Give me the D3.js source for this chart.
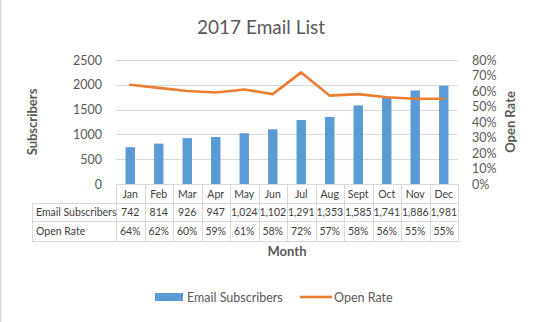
<!DOCTYPE html>
<html>
<head>
<meta charset="utf-8">
<script src="https://cdn.jsdelivr.net/npm/d3@7/dist/d3.min.js"></script>
<style>
  html, body { margin: 0; padding: 0; background: #fff; }
  svg { display: block; font-family: Lato, "Open Sans", sans-serif; }
</style>
</head>
<body>
<svg id="chart" width="540" height="322"></svg>
<script>
// Monthly email list figures for 2017
const months = ["Jan", "Feb", "Mar", "Apr", "May", "Jun", "Jul", "Aug", "Sept", "Oct", "Nov", "Dec"];
const subscribers = [742, 814, 926, 947, 1024, 1102, 1291, 1353, 1585, 1741, 1886, 1981];
const openRate = [0.64, 0.62, 0.60, 0.59, 0.61, 0.58, 0.72, 0.57, 0.58, 0.56, 0.55, 0.55];
const leftTicks = [0, 500, 1000, 1500, 2000, 2500];
const rightTicks = [0, 0.1, 0.2, 0.3, 0.4, 0.5, 0.6, 0.7, 0.8];
const seriesNames = ["Email Subscribers", "Open Rate"];

const BLUE = "#5b9bd5", ORANGE = "#ed7d31", GRID = "#d9d9d9", TEXT = "#595959", TABLE_TEXT = "#404040";

const svg = d3.select("#chart");

// frame edge on the left
svg.append("line").attr("x1", 0.7).attr("x2", 0.7).attr("y1", 0).attr("y2", 322)
  .attr("stroke", GRID).attr("stroke-width", 1.4);

const plot = { left: 116, right: 458, top: 60, bottom: 184 };

const x = d3.scaleBand().domain(months).range([plot.left, plot.right])
  .paddingInner(0.67).paddingOuter(0.335);
const yL = d3.scaleLinear().domain([0, 2500]).range([plot.bottom, plot.top]);
const yR = d3.scaleLinear().domain([0, 0.8]).range([plot.bottom, plot.top]);

// title
svg.append("text").attr("x", 261).attr("y", 34).attr("text-anchor", "middle")
  .attr("fill", TEXT).style("font-size", "19px").text("2017 Email List");

// horizontal gridlines
svg.append("g").selectAll("line").data(leftTicks.slice(1)).join("line")
  .attr("x1", plot.left).attr("x2", plot.right)
  .attr("y1", d => Math.round(yL(d)) + 0.5).attr("y2", d => Math.round(yL(d)) + 0.5)
  .attr("stroke", GRID).attr("stroke-width", 1);

// left axis
const axL = svg.append("g").attr("transform", `translate(${plot.left - 14},0)`)
  .call(d3.axisLeft(yL).tickValues(leftTicks).tickSize(0).tickPadding(0).tickFormat(d3.format("d")));
axL.select(".domain").remove();
axL.selectAll("text").attr("fill", TEXT).style("font-size", "12.5px").style("font-family", "Lato, sans-serif");

// right axis
const axR = svg.append("g").attr("transform", `translate(${472},0)`)
  .call(d3.axisRight(yR).tickValues(rightTicks).tickSize(0).tickPadding(0).tickFormat(d3.format(".0%")));
axR.select(".domain").remove();
axR.selectAll("text").attr("fill", TEXT).style("font-size", "12.5px").style("font-family", "Lato, sans-serif");

// axis titles
svg.append("text").attr("transform", `translate(37,122) rotate(-90)`).attr("text-anchor", "middle")
  .attr("fill", TEXT).style("font-size", "13px").style("font-weight", "bold").text("Subscribers");
svg.append("text").attr("transform", `translate(515,122) rotate(-90)`).attr("text-anchor", "middle")
  .attr("fill", TEXT).style("font-size", "13px").style("font-weight", "bold").text("Open Rate");

// bars
svg.append("g").selectAll("rect").data(subscribers).join("rect")
  .attr("x", (d, i) => x(months[i])).attr("width", x.bandwidth())
  .attr("y", d => yL(d)).attr("height", d => yL(0) - yL(d))
  .attr("fill", BLUE);

// open rate line
const line = d3.line().x((d, i) => x(months[i]) + x.bandwidth() / 2).y(d => yR(d));
svg.append("path").datum(openRate).attr("d", line)
  .attr("fill", "none").attr("stroke", ORANGE).attr("stroke-width", 2.6)
  .attr("stroke-linejoin", "round").attr("stroke-linecap", "round");

// data table under the plot
const rowTop = [184, 203, 221], rowBottom = 241, labelLeft = 32;
const step = x.step();
const colEdge = i => plot.left + i * step;
const tbl = svg.append("g");
const hl = (x1, x2, y) => tbl.append("line").attr("x1", x1).attr("x2", x2).attr("y1", y + 0.5).attr("y2", y + 0.5)
  .attr("stroke", GRID).attr("stroke-width", 1);
const vl = (xv, y1, y2) => tbl.append("line").attr("x1", xv + 0.5).attr("x2", xv + 0.5).attr("y1", y1).attr("y2", y2)
  .attr("stroke", GRID).attr("stroke-width", 1);
hl(plot.left, plot.right, rowTop[0]);
hl(labelLeft, plot.right, rowTop[1]);
hl(labelLeft, plot.right, rowTop[2]);
hl(labelLeft, plot.right, rowBottom);
vl(labelLeft, rowTop[1], rowBottom + 1);
d3.range(months.length + 1).forEach(i => vl(Math.round(colEdge(i)), rowTop[0], rowBottom + 1));

const cellFont = "10.5px";
const center = i => colEdge(i) + step / 2;
// month headers
tbl.selectAll("text.m").data(months).join("text").attr("class", "m")
  .attr("x", (d, i) => center(i)).attr("y", (rowTop[0] + rowTop[1]) / 2 + 4)
  .attr("text-anchor", "middle").attr("fill", TABLE_TEXT).style("font-size", cellFont).text(d => d);
// row labels
[seriesNames[0], seriesNames[1]].forEach((s, r) => {
  tbl.append("text").attr("x", labelLeft + 4).attr("y", (rowTop[r + 1] + (r === 0 ? rowTop[2] : rowBottom)) / 2 + 4)
    .attr("fill", TABLE_TEXT).style("font-size", cellFont).text(s);
});
const fmtN = d3.format(",");
const fmtP = d3.format(".0%");
tbl.selectAll("text.s").data(subscribers).join("text").attr("class", "s")
  .attr("x", (d, i) => center(i)).attr("y", (rowTop[1] + rowTop[2]) / 2 + 4)
  .attr("text-anchor", "middle").attr("fill", TABLE_TEXT).style("font-size", cellFont).text(d => fmtN(d));
tbl.selectAll("text.r").data(openRate).join("text").attr("class", "r")
  .attr("x", (d, i) => center(i)).attr("y", (rowTop[2] + rowBottom) / 2 + 4)
  .attr("text-anchor", "middle").attr("fill", TABLE_TEXT).style("font-size", cellFont).text(d => fmtP(d));

// x axis title
svg.append("text").attr("x", 287).attr("y", 256).attr("text-anchor", "middle")
  .attr("fill", TEXT).style("font-size", "13px").style("font-weight", "bold").text("Month");

// legend
const lg = svg.append("g");
lg.append("rect").attr("x", 155).attr("y", 293).attr("width", 28).attr("height", 8).attr("fill", BLUE);
lg.append("text").attr("x", 187).attr("y", 301.5).attr("fill", TEXT).style("font-size", "12.5px").text(seriesNames[0]);
lg.append("line").attr("x1", 300).attr("x2", 332).attr("y1", 297).attr("y2", 297)
  .attr("stroke", ORANGE).attr("stroke-width", 2.6);
lg.append("text").attr("x", 334).attr("y", 301.5).attr("fill", TEXT).style("font-size", "12.5px").text(seriesNames[1]);
</script>
</body>
</html>
